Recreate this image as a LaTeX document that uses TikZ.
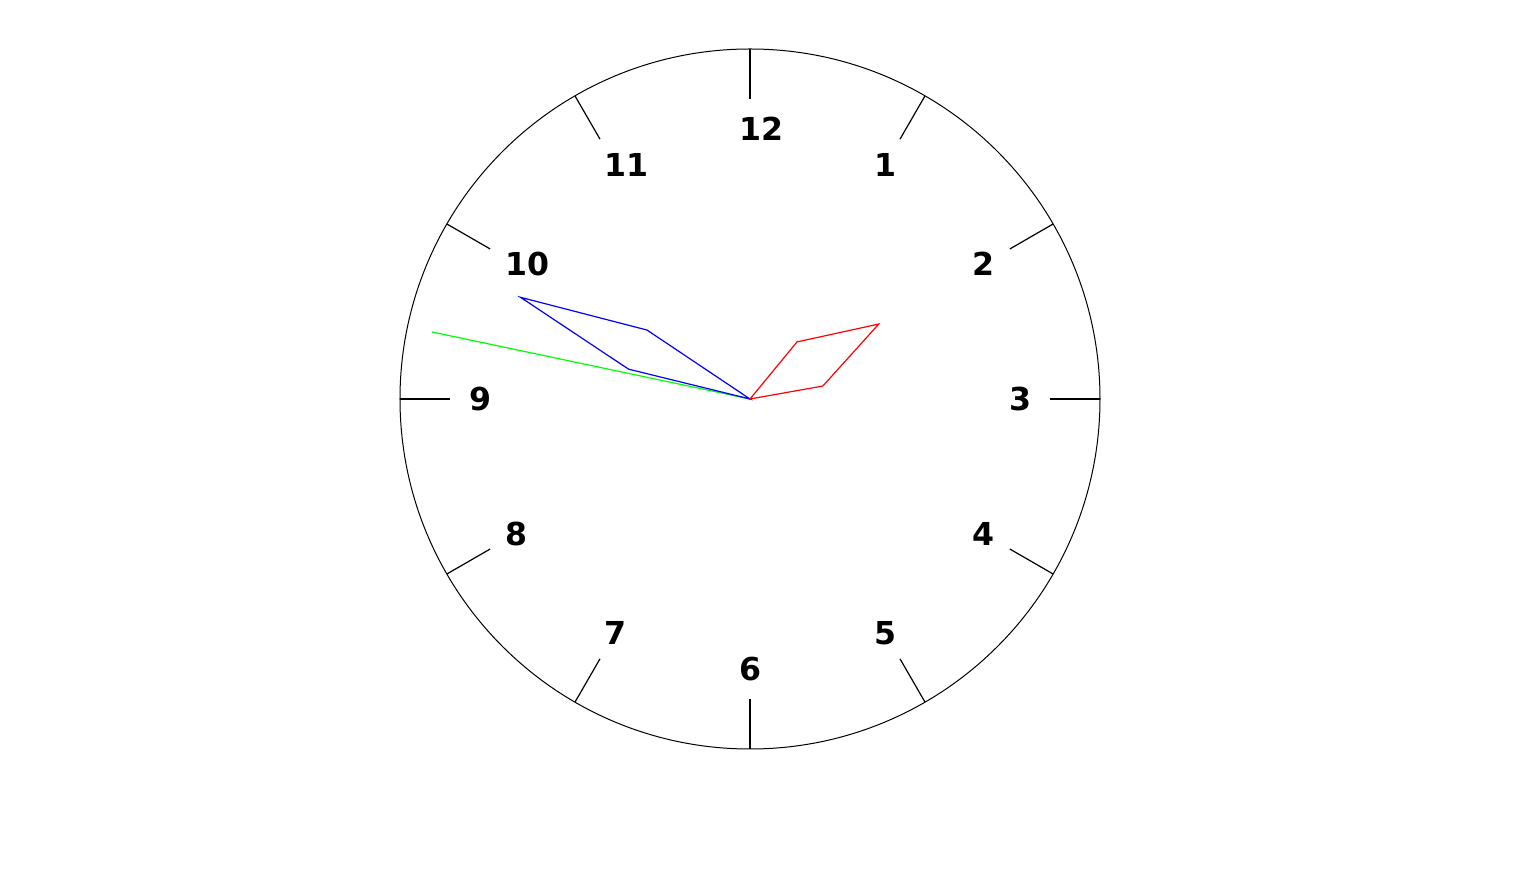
\documentclass[tikz,border=0pt]{standalone}
\usepackage{fontspec}
\setmainfont{DejaVu Sans}
\usepackage{xcolor}
\usepackage{tikz}
\usetikzlibrary{calc}
\definecolor{handred}{RGB}{255,0,0}
\definecolor{handblue}{RGB}{0,0,255}
\definecolor{handgreen}{RGB}{0,255,0}

\begin{document}
\begin{tikzpicture}[
    x=0.5pt, y=0.5pt,
    rim/.style={draw=black, line width=0.5pt},
    tickmark/.style={draw=black, line width=0.6pt},
    hournum/.style={font=\fontsize{15.8}{19}\selectfont\bfseries, inner sep=0pt},
    hourhand/.style={draw=handred, line width=0.6pt, line join=miter},
    minhand/.style={draw=handblue, line width=0.6pt, line join=miter},
    sechand/.style={draw=handgreen, line width=0.6pt}
]
\useasboundingbox (-750,-477) rectangle (785,399);

\coordinate (c) at (0,0);
\draw[rim] (c) circle (350);

% ticks and numbers
\foreach \h/\dx in {1/0,2/0,3/0,4/0,5/0,6/0,7/0,8/0,9/0,10/11,11/11,12/11} {
  \draw[tickmark] ($(c)+({90-30*\h}:300)$) -- ($(c)+({90-30*\h}:350)$);
  \node[hournum, xshift=\dx*0.5pt] (n\h) at ($(c)+({90-30*\h}:270)$) {\h};
}

% hands
\draw[sechand] (c) -- ++(168.1:325) coordinate (stip);
\draw[minhand] (c) -- ++(146.2:124) -- ($(c)+(156.1:251)$) -- ($(c)+(166.2:125)$) -- cycle;
\draw[hourhand] (c) -- ++(10.1:74) -- ($(c)+(30.2:149)$) -- ($(c)+(50.5:74)$) -- cycle;
\end{tikzpicture}
\end{document}
